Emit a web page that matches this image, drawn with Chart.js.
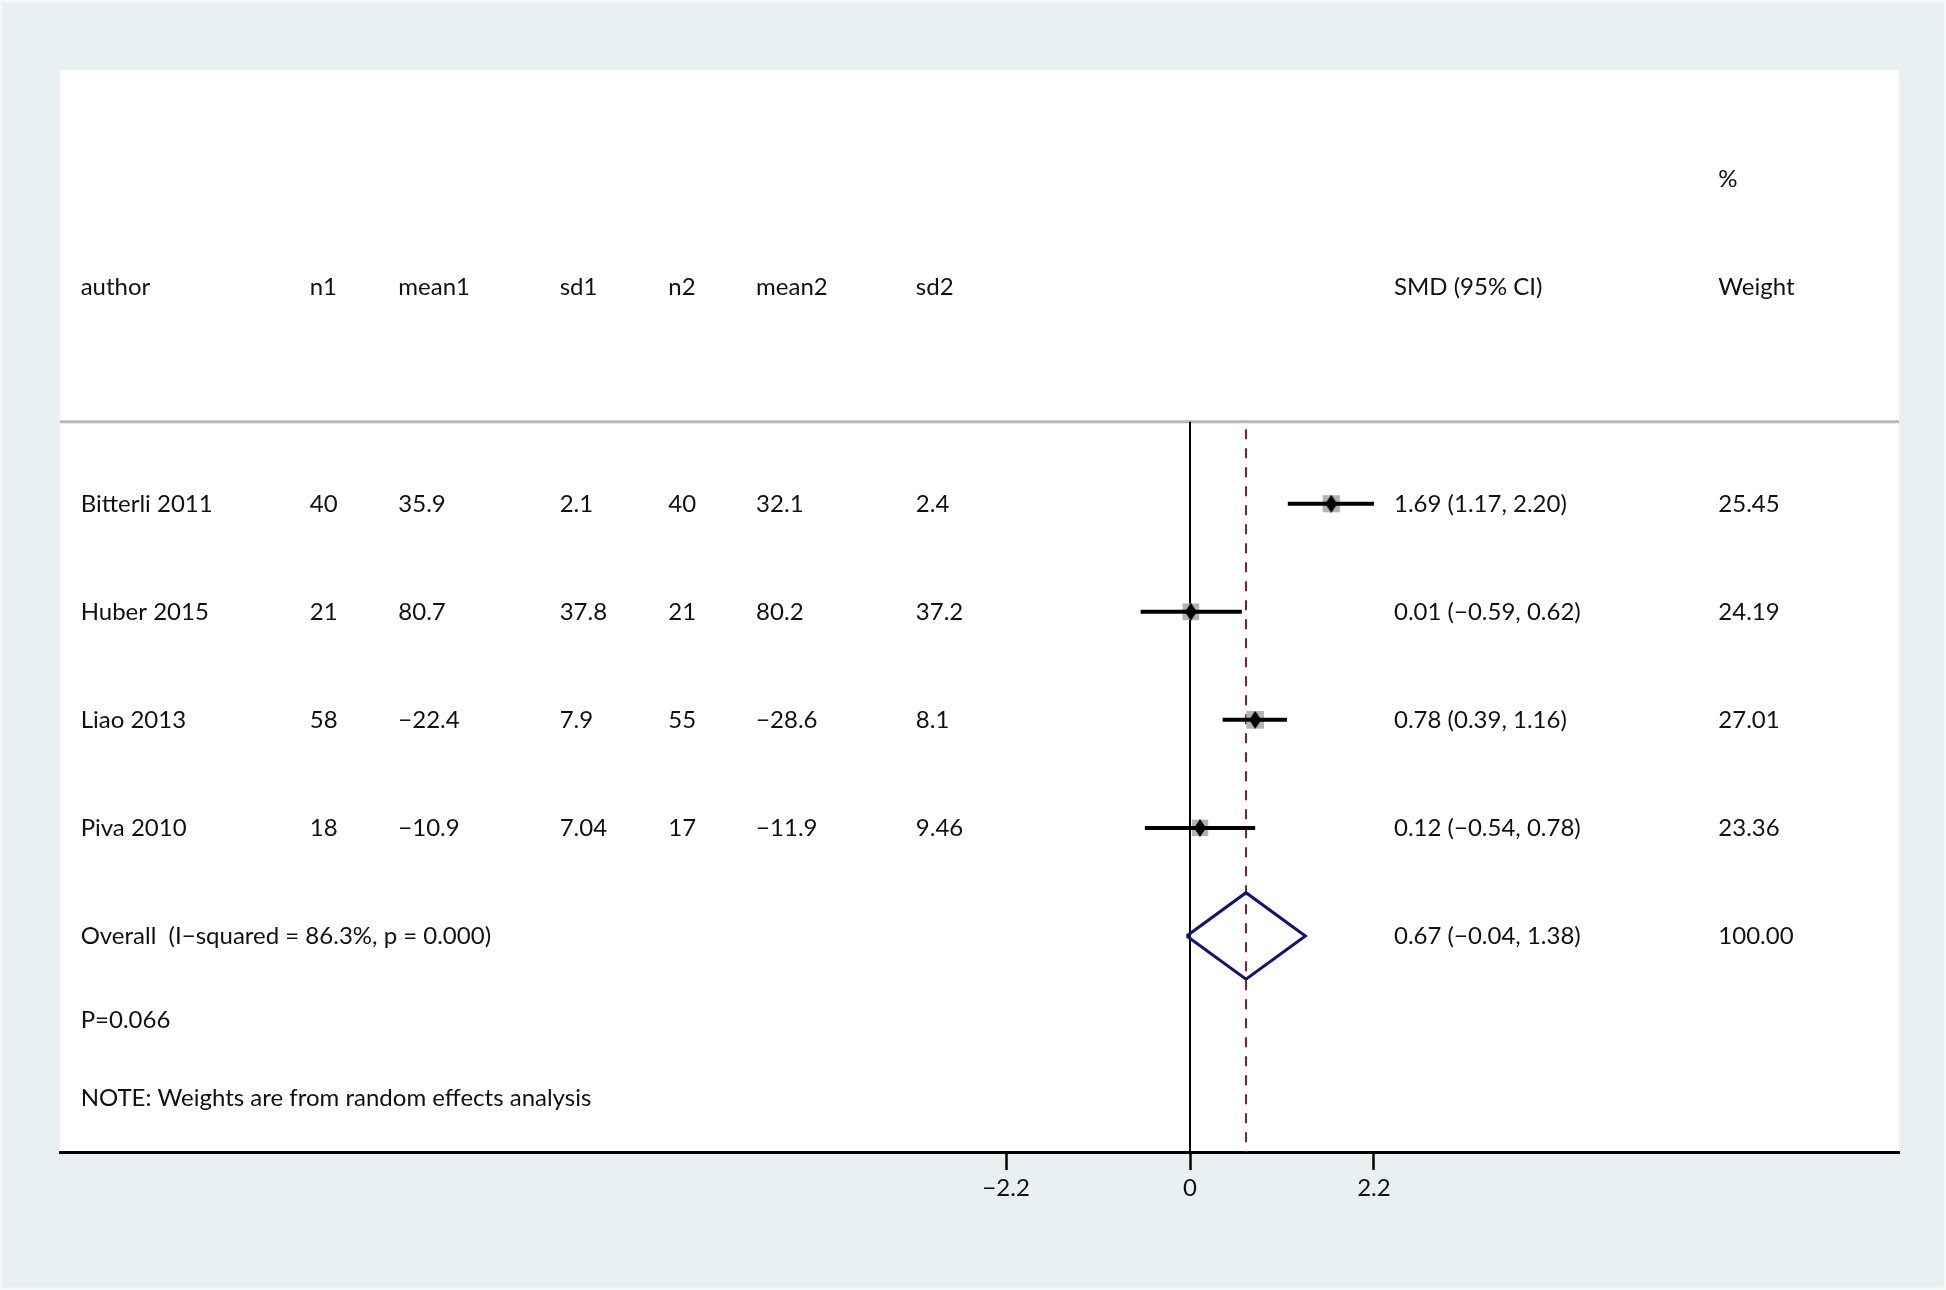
<!DOCTYPE html>
<html>
<head>
<meta charset="utf-8">
<script src="https://cdn.jsdelivr.net/npm/chart.js@4/dist/chart.umd.min.js"></script>
<style>
  html, body { margin: 0; padding: 0; background: #e9f0f2; }
  #wrap { width: 1946px; height: 1290px; position: relative; }
</style>
</head>
<body>
<div id="wrap"><canvas id="forest"></canvas></div>
<script>
// Forest plot (SMD, random effects) drawn with chart.js

// Study data
const authors = ['Bitterli 2011', 'Huber 2015', 'Liao 2013', 'Piva 2010'];
const n1 = [40, 21, 58, 18];
const mean1 = [35.9, 80.7, -22.4, -10.9];
const sd1 = [2.1, 37.8, 7.9, 7.04];
const n2 = [40, 21, 55, 17];
const mean2 = [32.1, 80.2, -28.6, -11.9];
const sd2 = [2.4, 37.2, 8.1, 9.46];
const smd = [1.69, 0.01, 0.78, 0.12];
const ciLow = [1.17, -0.59, 0.39, -0.54];
const ciHigh = [2.20, 0.62, 1.16, 0.78];
const weight = [25.45, 24.19, 27.01, 23.36];

// Pooled estimate
const overallLabel = 'Overall  (I\u2212squared = 86.3%, p = 0.000)';
const overallSmd = 0.67;
const overallLow = -0.04;
const overallHigh = 1.38;
const overallWeight = 100.00;
const pText = 'P=0.066';
const noteText = 'NOTE: Weights are from random effects analysis';

// x axis ticks
const xTicks = [-2.2, 0, 2.2];

// layout (data units of the scales)
const X_MIN = -13.517, X_MAX = 8.481;
const headerY = -1, pctY = -2, ruleY = 0.24, pY = 5.78, noteY = 6.5;
const colX = [-13.27, -10.53, -9.47, -7.54, -6.24, -5.19, -3.28, 2.44, 6.32];
const FONT_FAMILY = 'Lato, "Open Sans", sans-serif';
const FONT = '24px ' + FONT_FAMILY;

const minus = (s) => String(s).replace(/-/g, '\u2212');
const rows = authors.map((a, i) => i + 1);
const overallRow = authors.length + 1;

// small tall diamond used as point marker
const marker = document.createElement('canvas');
marker.width = 12; marker.height = 18;
(() => {
    const c = marker.getContext('2d');
    c.fillStyle = '#000';
    c.beginPath();
    c.moveTo(6, 0); c.lineTo(12, 9); c.lineTo(6, 18); c.lineTo(0, 9);
    c.closePath();
    c.fill();
})();

// CI segments, separated by gaps
let ciPts = [];
rows.forEach((r, i) => {
    ciPts.push({x: ciLow[i], y: r}, {x: ciHigh[i], y: r}, {x: null, y: null});
});

const halfH = 0.4;
const diamondPts = [
    {x: overallLow, y: overallRow},
    {x: overallSmd, y: overallRow - halfH},
    {x: overallHigh, y: overallRow},
    {x: overallSmd, y: overallRow + halfH},
    {x: overallLow, y: overallRow}
];

const textPlugin = {
    id: 'forestText',
    beforeDraw(chart) {
        const {ctx, chartArea} = chart;
        ctx.save();
        ctx.strokeStyle = '#f5f8f9';
        ctx.lineWidth = 3;
        ctx.strokeRect(1, 1, chart.width - 2, chart.height - 2);
        ctx.fillStyle = '#ffffff';
        ctx.fillRect(chartArea.left, chartArea.top, chartArea.right - chartArea.left, chartArea.bottom - chartArea.top);
        ctx.restore();
    },
    afterDraw(chart) {
        const {ctx} = chart;
        const xs = chart.scales.x, ys = chart.scales.y;
        const px = (i) => xs.getPixelForValue(colX[i]);
        const py = (v) => ys.getPixelForValue(v);
        ctx.save();
        ctx.font = FONT;
        ctx.fillStyle = '#111';
        ctx.textBaseline = 'middle';
        ctx.textAlign = 'left';

        const head = ['author', 'n1', 'mean1', 'sd1', 'n2', 'mean2', 'sd2', 'SMD (95% CI)', 'Weight'];
        head.forEach((h, i) => ctx.fillText(h, px(i), py(headerY)));
        ctx.fillText('%', px(8), py(pctY));

        rows.forEach((r, i) => {
            const cells = [
                authors[i], n1[i], minus(mean1[i]), sd1[i], n2[i], minus(mean2[i]), sd2[i],
                minus(smd[i].toFixed(2) + ' (' + ciLow[i].toFixed(2) + ', ' + ciHigh[i].toFixed(2) + ')'),
                weight[i].toFixed(2)
            ];
            cells.forEach((c, j) => ctx.fillText(String(c), px(j), py(r)));
        });

        ctx.fillText(overallLabel, px(0), py(overallRow));
        ctx.fillText(minus(overallSmd.toFixed(2) + ' (' + overallLow.toFixed(2) + ', ' + overallHigh.toFixed(2) + ')'), px(7), py(overallRow));
        ctx.fillText(overallWeight.toFixed(2), px(8), py(overallRow));
        ctx.fillText(pText, px(0), py(pY));
        ctx.fillText(noteText, px(0), py(noteY));
        ctx.restore();
    }
};

const chart = new Chart(document.getElementById('forest'), {
    type: 'scatter',
    data: {
        datasets: [
            {   // study diamonds
                data: rows.map((r, i) => ({x: smd[i], y: r})),
                pointStyle: marker,
                pointRadius: 7,
                order: 0
            },
            {   // weight boxes
                data: rows.map((r, i) => ({x: smd[i], y: r})),
                pointStyle: 'rect',
                pointRadius: rows.map((r, i) => 2.4 * Math.sqrt(weight[i])),
                backgroundColor: '#b3b3b3',
                borderWidth: 0,
                order: 2
            },
            {   // confidence intervals
                data: ciPts,
                showLine: true,
                spanGaps: false,
                pointRadius: 0,
                borderColor: '#000',
                borderWidth: 4,
                order: 1
            },
            {   // pooled diamond
                data: diamondPts,
                showLine: true,
                pointRadius: 0,
                borderColor: '#14146e',
                borderWidth: 3,
                order: 1
            },
            {   // null line
                data: [{x: 0, y: ruleY}, {x: 0, y: 7}],
                showLine: true,
                pointRadius: 0,
                borderColor: '#000',
                borderWidth: 2,
                order: 3
            },
            {   // pooled estimate line
                data: [{x: overallSmd, y: ruleY + 0.07}, {x: overallSmd, y: 7}],
                showLine: true,
                pointRadius: 0,
                borderColor: '#8e1c24',
                borderWidth: 2,
                borderDash: [10, 9],
                order: 3
            },
            {   // header rule
                data: [{x: X_MIN, y: ruleY}, {x: X_MAX, y: ruleY}],
                showLine: true,
                pointRadius: 0,
                borderColor: '#b8b8b8',
                borderWidth: 3,
                order: 4
            }
        ]
    },
    options: {
        responsive: true,
        maintainAspectRatio: false,
        animation: false,
        layout: { padding: { left: 60, right: 47, top: 70, bottom: 78 } },
        plugins: { legend: { display: false }, tooltip: { enabled: false } },
        scales: {
            x: {
                type: 'linear',
                min: X_MIN,
                max: X_MAX,
                afterBuildTicks: (scale) => { scale.ticks = xTicks.map(v => ({value: v})); },
                afterFit: (scale) => { scale.height = 60; },
                grid: { display: true, drawOnChartArea: false, drawTicks: true, tickLength: 18, tickWidth: 2.5, tickColor: '#000' },
                border: { display: true, color: '#000', width: 3 },
                ticks: {
                    color: '#111',
                    font: { family: FONT_FAMILY, size: 24 },
                    padding: 4,
                    maxRotation: 0,
                    autoSkip: false,
                    callback: (v) => v === 0 ? '0' : minus(v.toFixed(1))
                }
            },
            y: {
                type: 'linear',
                display: false,
                reverse: true,
                min: -3.015,
                max: 7
            }
        }
    },
    plugins: [textPlugin]
});
</script>
</body>
</html>
